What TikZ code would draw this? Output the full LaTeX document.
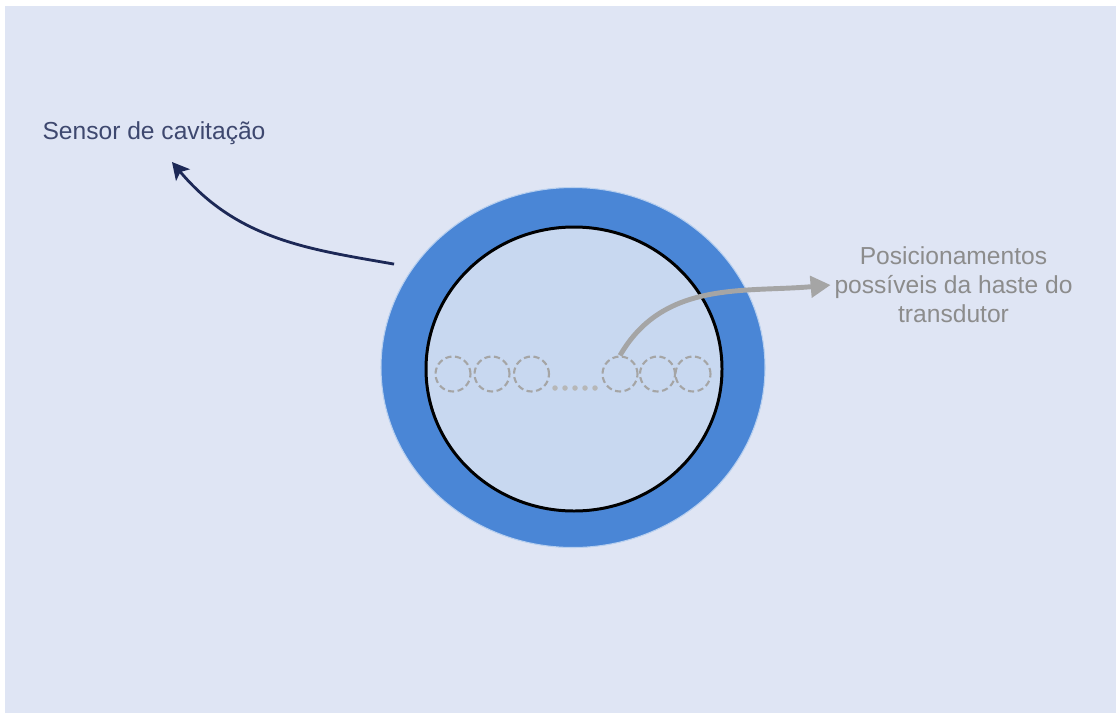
\documentclass[tikz,border=0pt]{standalone}
\usepackage{fontspec}
\setmainfont{Liberation Sans}
\usepackage{tikz}
\usetikzlibrary{shapes,arrows.meta}

\definecolor{fundo}{RGB}{223,229,244}
\definecolor{anel}{RGB}{74,134,214}
\definecolor{tubo}{RGB}{200,216,240}
\definecolor{marinho}{RGB}{28,40,86}
\definecolor{cinza}{RGB}{140,140,140}
\definecolor{haste}{RGB}{165,165,165}

\tikzset{
  furo/.style={draw=haste,circle,dash pattern=on 3.5pt off 2pt,line width=1.2pt,minimum size=0.7cm,inner sep=0pt},
  ponto/.style={circle,fill=haste!80,minimum size=0.11cm,inner sep=0pt}
}

\begin{document}
\begin{tikzpicture}
\useasboundingbox (0,0) rectangle (22.32,-14.26);
\fill[fundo] (0.1,-0.12) rectangle (22.32,-14.26);

\node[xshift=11.46cm,yshift=-7.35cm,ellipse,fill=anel,draw=anel!40!white,line width=0.6pt,minimum width=7.68cm,minimum height=7.2cm,inner sep=0pt] (anel) {};
\node[xshift=11.48cm,yshift=-7.38cm,ellipse,fill=tubo,draw=black,line width=1.7pt,minimum width=5.92cm,minimum height=5.68cm,inner sep=0pt] (tubo) {};

\node[xshift=9.06cm,yshift=-7.48cm,furo] (p1) {};
\node[xshift=9.84cm,yshift=-7.48cm,furo] (p2) {};
\node[xshift=10.63cm,yshift=-7.48cm,furo] (p3) {};
\node[xshift=11.1cm,yshift=-7.76cm,ponto] (d1) {};
\node[xshift=11.3cm,yshift=-7.76cm,ponto] (d2) {};
\node[xshift=11.5cm,yshift=-7.76cm,ponto] (d3) {};
\node[xshift=11.7cm,yshift=-7.76cm,ponto] (d4) {};
\node[xshift=11.9cm,yshift=-7.76cm,ponto] (d5) {};
\node[xshift=12.4cm,yshift=-7.48cm,furo] (p4) {};
\node[xshift=13.15cm,yshift=-7.48cm,furo] (p5) {};
\node[xshift=13.86cm,yshift=-7.48cm,furo] (p6) {};

\node[xshift=3.08cm,yshift=-2.66cm,text=marinho!85!white,font=\fontsize{14pt}{16.5pt}\selectfont] (sensor) {Sensor de cavitação};
\node[xshift=19.07cm,yshift=-5.7cm,text=cinza,align=center,inner sep=2pt,font=\fontsize{14pt}{16.5pt}\selectfont] (posic) {Posicionamentos\\possíveis da haste do\\transdutor};

\coordinate (ponta) at (3.44,-3.24);
\draw[-{Stealth[length=0.34cm,width=0.36cm,inset=0.08cm]},marinho,line width=1.6pt,shorten <=0.38cm] (anel.148) to[out=170,in=-50] (ponta);
\draw[-{Triangle[length=0.4cm,width=0.42cm]},haste,line width=2.8pt] (p4.north) to[out=60,in=185] (posic.west);
\end{tikzpicture}
\end{document}
